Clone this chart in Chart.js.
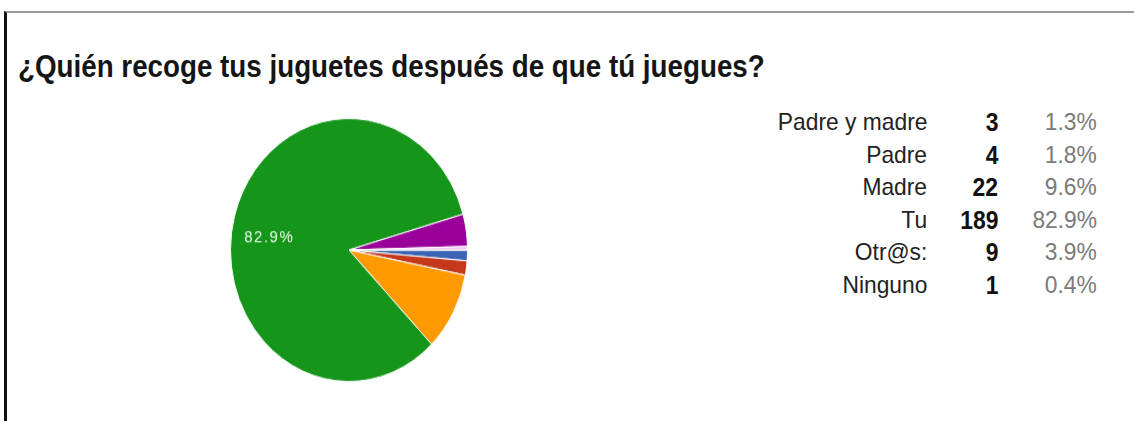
<!DOCTYPE html>
<html>
<head>
<meta charset="utf-8">
<script src="https://cdn.jsdelivr.net/npm/chart.js@4.4.1/dist/chart.umd.min.js"></script>
<style>
  body { margin: 0; background: #fff; width: 1134px; height: 421px; overflow: hidden; position: relative;
         font-family: "Liberation Sans", Arial, sans-serif; }
  .frame { position: absolute; left: 4px; top: 11px; right: 0; bottom: 0;
           border-top: 2px solid #9a9a9a; border-left: 3px solid #111; }
  h1 { position: absolute; left: 18px; top: 49px; margin: 0; font-size: 31px; font-weight: bold;
       color: #151515; white-space: nowrap; transform-origin: left top; }
  #pieBox { position: absolute; left: 230px; top: 131px; width: 238px; height: 238px;
            transform: scaleY(1.11); transform-origin: center; }
  .cell { position: absolute; white-space: nowrap; text-align: right; line-height: 28px;
          transform-origin: right center; }
  .lab { font-size: 24px; color: #222; transform: scaleX(0.95); }
  .num { font-size: 26px; font-weight: bold; color: #111; transform: scaleX(0.88); }
  .pct { font-size: 24px; color: #7a7a7a; transform: scaleX(0.95); }
</style>
</head>
<body>
<div class="frame"></div>
<h1 id="title">¿Quién recoge tus juguetes después de que tú juegues?</h1>
<div id="pieBox"><canvas id="pie" width="238" height="238"></canvas></div>
<div id="summary"></div>

<script>
const answers = ["Padre y madre", "Padre", "Madre", "Tu", "Otr@s:", "Ninguno"];
const counts = [3, 4, 22, 189, 9, 1];
const percents = ["1.3%", "1.8%", "9.6%", "82.9%", "3.9%", "0.4%"];
const sliceColors = ["#3b64b4", "#c4391c", "#ff9900", "#15961a", "#990099", "#efc9ef"];

// title squeezed to the width of the header line
const title = document.getElementById("title");
title.style.transform = "scaleX(" + (747 / title.offsetWidth) + ")";

// summary table to the right of the pie
const summary = document.getElementById("summary");
const rowMid = 122, rowStep = 32.6;
answers.forEach((a, i) => {
  const y = rowMid + i * rowStep - 14;
  summary.insertAdjacentHTML("beforeend",
    `<div class="cell lab" style="right:${1134 - 927}px;top:${y}px">${a}</div>` +
    `<div class="cell num" style="right:${1134 - 998}px;top:${y}px">${counts[i]}</div>` +
    `<div class="cell pct" style="right:${1134 - 1097}px;top:${y}px">${percents[i]}</div>`);
});

// percentage text inside the big slice
const sliceLabel = {
  id: "sliceLabel",
  afterDatasetsDraw(chart) {
    const arc = chart.getDatasetMeta(0).data[3];
    const p = arc.getProps(["x", "y", "startAngle", "endAngle", "outerRadius"], true);
    const a = p.startAngle + (p.endAngle - p.startAngle) * 0.477;
    const r = p.outerRadius * 0.68;
    const ctx = chart.ctx;
    ctx.save();
    ctx.font = "15px 'Liberation Sans', Arial, sans-serif";
    ctx.letterSpacing = "1.5px";
    ctx.fillStyle = "#e8ffe8";
    ctx.textAlign = "center";
    ctx.textBaseline = "middle";
    ctx.fillText(percents[3], p.x + Math.cos(a) * r, p.y + Math.sin(a) * r);
    ctx.restore();
  }
};

new Chart(document.getElementById("pie"), {
  type: "pie",
  data: {
    labels: answers,
    datasets: [{
      data: counts,
      backgroundColor: sliceColors,
      borderColor: "#ffffff",
      borderWidth: 1
    }]
  },
  options: {
    responsive: false,
    animation: false,
    rotation: 90,
    layout: { padding: 0 },
    plugins: { legend: { display: false }, tooltip: { enabled: false } }
  },
  plugins: [sliceLabel]
});
</script>
</body>
</html>
